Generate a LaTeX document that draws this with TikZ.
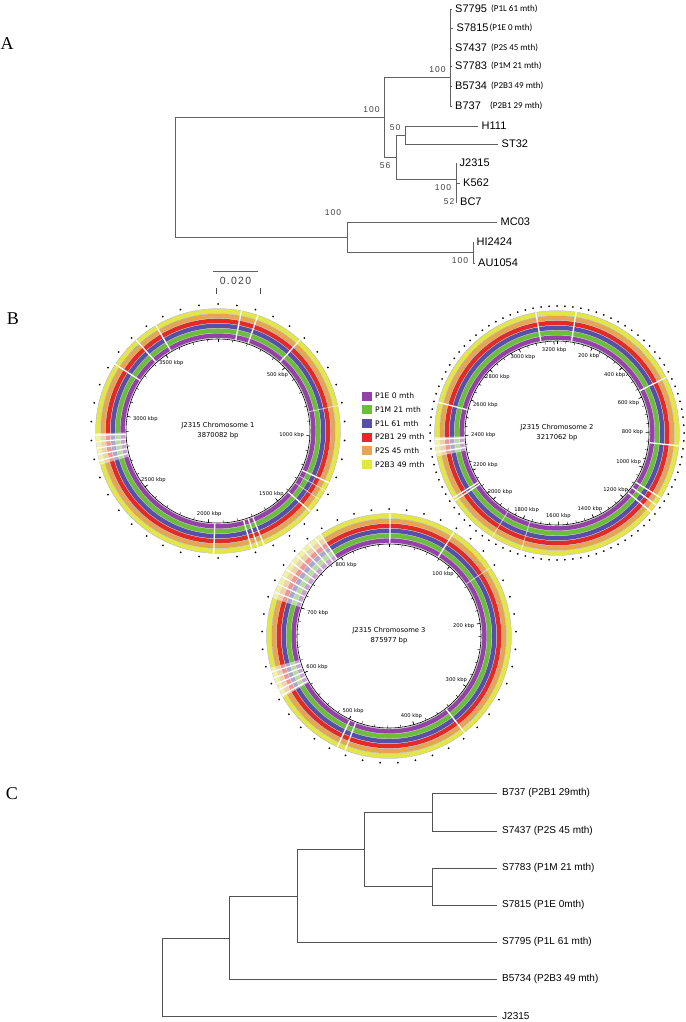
\documentclass[tikz,border=0pt]{standalone}
\usepackage{fontspec}
\setmainfont{Liberation Sans}
\newfontfamily\letterfont{Liberation Serif}
\newfontfamily\notefont{Carlito}
\newfontfamily\cgvfont{DejaVu Sans}
\newfontfamily\bootfont[LetterSpace=12]{Liberation Sans}
\usetikzlibrary{positioning}

\definecolor{trkE}{RGB}{148,66,168}
\definecolor{trkM}{RGB}{108,190,58}
\definecolor{trkL}{RGB}{88,80,168}
\definecolor{trkBa}{RGB}{228,42,38}
\definecolor{trkS}{RGB}{228,166,84}
\definecolor{trkBc}{RGB}{226,230,72}

\tikzset{
  panel/.style={font=\letterfont\fontsize{18}{20}\selectfont, inner sep=0pt},
  branch/.style={draw=black!62, line width=.9pt},
  leaf/.style={anchor=west, inner xsep=3.5pt, inner ysep=1pt, font=\fontsize{11}{12}\selectfont},
  months/.style={anchor=west, inner sep=0pt, font=\notefont\fontsize{9}{10}\selectfont},
  boot/.style={inner sep=0pt, font=\bootfont\fontsize{8.5}{9}\selectfont, text=black!75},
  cleaf/.style={anchor=west, inner xsep=5pt, inner ysep=1pt, font=\fontsize{10}{11}\selectfont},
  kbp/.style={inner sep=.8pt, font=\cgvfont\fontsize{5.2}{6}\selectfont},
  chrom/.style={align=center, font=\cgvfont\fontsize{6.8}{10}\selectfont},
  legtext/.style={anchor=west, inner sep=0pt, font=\cgvfont\fontsize{7.6}{9}\selectfont},
  gapline/.style={white, line width=1.3pt},
  faintgap/.style={white, opacity=.6, line width=.9pt},
}

\newcommand{\drawtracks}{%
  \foreach \c [count=\i] in {trkE,trkM,trkL,trkBa,trkS,trkBc}
    \draw[\c, line width=4.4pt] (0,0) circle[radius=90.55+\i*4.9];
  \foreach \i in {0,...,6}
    \draw[black!40, line width=.25pt] (0,0) circle[radius=93+\i*4.9];
  \draw[line width=.6pt] (0,0) circle[radius=92];
}
\newcommand{\gaps}[1]{\foreach \g in {#1} \draw[gapline] ({90-\g}:92.8) -- ({90-\g}:122.6);}
\newcommand{\faint}[1]{\foreach \g in {#1} \draw[faintgap] ({90-\g}:92.8) -- ({90-\g}:122.6);}
\newcommand{\wash}[2]{\fill[white, opacity=.5] ({90-#1}:92.8) arc[start angle={90-#1}, end angle={90-#2}, radius=92.8] -- ({90-#2}:122.6) arc[start angle={90-#2}, end angle={90-#1}, radius=122.6] -- cycle;}
\newcommand{\outerdots}[2]{\foreach \i in {0,...,#1} \fill ({90-\i*#2}:127) circle[radius=1];}
\newcommand{\scaleticks}[2]{\foreach \i in {0,...,#1} \draw[line width=.4pt] ({90-\i*#2}:92) -- ({90-\i*#2}:89.5);}
\newcommand{\kbplabels}[4]{%
  \foreach \k in {1,...,#1}{
    \pgfmathsetmacro\a{90-\k*#2}
    \pgfmathtruncatemacro\kb{\k*#3}
    \draw[line width=.5pt] (\a:92) -- (\a:88.5);
    \node[kbp, anchor=\a] (#4\k) at (\a:87) {\kb\ kbp};
  }}

\begin{document}
\begin{tikzpicture}[x=1pt,y=1pt]
\useasboundingbox (0,0) rectangle (685,-1022);

% A: tree
\node[panel] (pA) at (7,-44) {A};
\coordinate (rA) at (175,-177);
\coordinate (nA1) at (384,-117);
\coordinate (nA2) at (450,-77);
\coordinate (nA3) at (396,-157);
\coordinate (nA4) at (405,-135);
\coordinate (nA5) at (456,-179);
\coordinate (nA6) at (347,-237);
\coordinate (nA7) at (473,-252);
\draw[branch] (rA) |- (nA1) (rA) |- (nA6) (nA1) |- (nA2) (nA1) |- (nA3)
  (nA3) |- (nA4) (nA3) |- (nA5) (nA6) |- (nA7);
\foreach \nm/\x/\mx/\y/\m in {S7795/451.5/491/9/P1L 61 mth, S7815/453/489.5/28/P1E 0 mth,
  S7437/451.5/491/48/P2S 45 mth, S7783/451.5/491/66/P1M 21 mth,
  B5734/451.5/491/86/P2B3 49 mth, B737/451.5/490/106/P2B1 29 mth}
{
  \node[leaf] (\nm) at (\x,-\y) {\nm};
  \node[months] (\nm-m) at (\mx,-\y) {(\m)};
  \draw[branch] (nA2) |- (\nm.west);
}
\node[leaf] (H111) at (478,-126) {H111};
\node[leaf] (ST32) at (498,-144) {ST32};
\node[leaf] (J2315) at (456,-163) {J2315};
\node[leaf] (K562) at (459.5,-183) {K562};
\node[leaf] (BC7) at (456.5,-202) {BC7};
\node[leaf] (MC03) at (497,-222) {MC03};
\node[leaf] (HI2424) at (473,-242) {HI2424};
\node[leaf] (AU1054) at (474.5,-263) {AU1054};
\draw[branch] (nA4) |- (H111.west) (nA4) |- (ST32.west) (nA5) |- (J2315.west)
  (nA5) |- (K562.west) (nA5) |- (BC7.west) (nA6) |- (MC03.west)
  (nA7) |- (HI2424.west) (nA7) |- (AU1054.west);
\node[boot] (bA1) at (437.5,-70) {100};
\node[boot] (bA2) at (371.5,-109.5) {100};
\node[boot] (bA3) at (395,-128) {50};
\node[boot] (bA4) at (385,-166) {56};
\node[boot] (bA5) at (443,-187.5) {100};
\node[boot] (bA6) at (449,-202) {52};
\node[boot] (bA7) at (333,-213) {100};
\node[boot] (bA8) at (460,-261) {100};
\coordinate (sbL) at (213,-271);
\coordinate (sbR) at (258,-271);
\draw[branch] (sbL) -- (sbR);
\node[boot, font=\bootfont\fontsize{10.5}{11}\selectfont] (sbT) at (235.5,-281) {0.020};
\draw[black!70, line width=.6pt] (216,-288) -- (216,-294) (260,-288) -- (260,-294);

% B: chromosome maps
\node[panel] (pB) at (13,-319) {B};
\begin{scope}[shift={(218,-431)}]
\drawtracks
\wash{254}{269}
\gaps{11,19,42,115,131,158,161,164,182,256,259,262,265,268,303,318,329.5}
\faint{78,119,124}
\outerdots{41}{8.57}
\scaleticks{38}{9.302}
\kbplabels{7}{46.51}{500}{cA}
\node[chrom] (chrA) at (0,0) {J2315 Chromosome 1\\3870082 bp};
\end{scope}
\begin{scope}[shift={(557,-433)}]
\drawtracks
\wash{259}{268}
\gaps{9,63,96,122,126,130,236.5,238,261,264,267,284.5,350}
\faint{197,212}
\outerdots{99}{3.6}
\scaleticks{64}{5.595}
\kbplabels{16}{22.38}{200}{cB}
\node[chrom] (chrB) at (0,0) {J2315 Chromosome 2\\3217062 bp};
\end{scope}
\begin{scope}[shift={(389,-636)}]
\drawtracks
\wash{240}{255}
\wash{288}{326}
\gaps{0.5,32,142,201,205,326,241,244,247,250,253,291,295,299,303,307,311,315,319,323}
\faint{56}
\outerdots{44}{8}
\scaleticks{43}{8.219}
\kbplabels{8}{41.1}{100}{cC}
\node[chrom] (chrC) at (0,0) {J2315 Chromosome 3\\875977 bp};
\end{scope}
\foreach \c/\t [count=\i] in {trkE/P1E 0 mth, trkM/P1M 21 mth, trkL/P1L 61 mth,
  trkBa/P2B1 29 mth, trkS/P2S 45 mth, trkBc/P2B3 49 mth}
{
  \pgfmathsetmacro\y{-396-(\i-1)*13.7}
  \fill[\c] (362,\y-4.5) rectangle (371.5,\y+4.5);
  \node[legtext] (leg\i) at (375,\y) {\t};
}

% C: tree
\node[panel] (pC) at (12,-794) {C};
\coordinate (rC) at (162,-977);
\coordinate (nC1) at (229,-938);
\coordinate (nC2) at (297,-896);
\coordinate (nC3) at (364,-849);
\coordinate (nC4) at (432,-812);
\coordinate (nC5) at (432,-886);
\foreach \nm/\y/\t in {cB737/793/B737 (P2B1 29mth), cS7437/831/S7437 (P2S 45 mth),
  cS7783/868/S7783 (P1M 21 mth), cS7815/905/S7815 (P1E 0mth),
  cS7795/942/S7795 (P1L 61 mth), cB5734/979/B5734 (P2B3 49 mth), cJ2315/1016/J2315}
  \node[cleaf] (\nm) at (497,-\y) {\t};
\draw[branch, draw=black!68] (rC) |- (nC1) (rC) |- (cJ2315.west) (nC1) |- (nC2)
  (nC1) |- (cB5734.west) (nC2) |- (nC3) (nC2) |- (cS7795.west) (nC3) |- (nC4)
  (nC3) |- (nC5) (nC4) |- (cB737.west) (nC4) |- (cS7437.west)
  (nC5) |- (cS7783.west) (nC5) |- (cS7815.west);
\end{tikzpicture}
\end{document}
